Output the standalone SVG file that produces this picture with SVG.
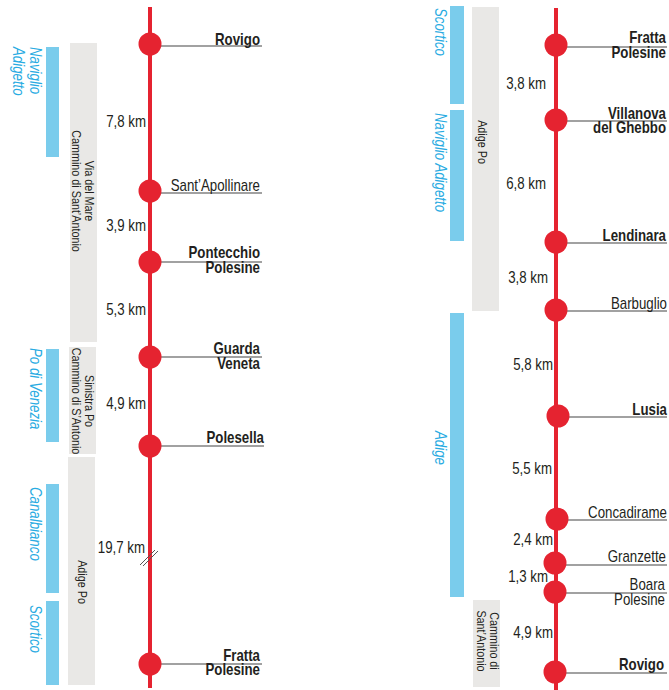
<svg xmlns="http://www.w3.org/2000/svg" width="669" height="690" viewBox="0 0 669 690">
<style>
text{font-family:"Liberation Sans",Arial,sans-serif;fill:#231f20}
.st{font-size:16px;text-anchor:end}
.b{font-weight:bold}
.km{font-size:16px;text-anchor:end}
.riv{font-size:16px;font-style:italic;fill:#29abe2}
.path{font-size:13px;text-anchor:middle}
.rl{stroke:#e52330;stroke-width:4}
.dot{fill:#e52330}
.lead{stroke:#444;stroke-width:1.2}
.blue{fill:#7accec}
.grey{fill:#e9e8e6}
</style>
<g id="bars">
<rect class="blue" x="46" y="47" width="13" height="110"/>
<rect class="grey" x="70" y="43" width="27" height="299"/>
<rect class="blue" x="46" y="349" width="13" height="93"/>
<rect class="grey" x="69" y="347" width="27" height="107"/>
<rect class="grey" x="68" y="457" width="27" height="228"/>
<rect class="blue" x="46" y="484" width="13" height="109"/>
<rect class="blue" x="46" y="601" width="13" height="84"/>
<rect class="blue" x="450" y="6" width="14" height="98"/>
<rect class="blue" x="450" y="110" width="14" height="131"/>
<rect class="grey" x="472" y="7" width="27" height="304"/>
<rect class="blue" x="450" y="313" width="14" height="284"/>
<rect class="grey" x="473" y="600" width="27" height="87"/>
</g>
<g id="bar-labels">
<text class="riv" transform="translate(30,47) rotate(90) scale(.83,1)">Naviglio<tspan x="0" dy="17">Adigetto</tspan></text>
<text class="path" transform="translate(85,191) rotate(90) scale(.83,1)">Via del Mare<tspan x="0" dy="13">Cammino di Sant’Antonio</tspan></text>
<text class="riv" transform="translate(30,348) rotate(90) scale(.83,1)">Po di Venezia</text>
<text class="path" transform="translate(85,401) rotate(90) scale(.83,1)">Sinistra Po<tspan x="0" dy="13">Cammino di S’Antonio</tspan></text>
<text class="path" transform="translate(78,582) rotate(90) scale(.83,1)">Adige Po</text>
<text class="riv" transform="translate(30,487) rotate(90) scale(.83,1)">Canalbianco</text>
<text class="riv" transform="translate(30,605) rotate(90) scale(.83,1)">Scortico</text>
<text class="riv" transform="translate(435,8) rotate(90) scale(.83,1)">Scortico</text>
<text class="riv" transform="translate(435,113) rotate(90) scale(.83,1)">Naviglio Adigetto</text>
<text class="path" transform="translate(478,142) rotate(90) scale(.83,1)">Adige Po</text>
<text class="riv" transform="translate(435,431) rotate(90) scale(.83,1)">Adige</text>
<text class="path" transform="translate(490,641) rotate(90) scale(.83,1)">Cammino di<tspan x="0" dy="13">Sant’Antonio</tspan></text>
</g>
<g id="connectors">
<line class="rl" x1="150" y1="7" x2="150" y2="688"/>
<line class="rl" x1="556" y1="8" x2="556" y2="690"/>
<line class="lead" x1="150" y1="46" x2="262" y2="46"/>
<line class="lead" x1="150" y1="193" x2="262" y2="193"/>
<line class="lead" x1="150" y1="262" x2="262" y2="262"/>
<line class="lead" x1="150" y1="357" x2="262" y2="357"/>
<line class="lead" x1="150" y1="446" x2="264" y2="446"/>
<line class="lead" x1="150" y1="664" x2="262" y2="664"/>
<line class="lead" x1="556" y1="47" x2="667" y2="47"/>
<line class="lead" x1="556" y1="121" x2="667" y2="121"/>
<line class="lead" x1="556" y1="243" x2="667" y2="243"/>
<line class="lead" x1="556" y1="311" x2="667" y2="311"/>
<line class="lead" x1="556" y1="417" x2="667" y2="417"/>
<line class="lead" x1="556" y1="520" x2="667" y2="520"/>
<line class="lead" x1="556" y1="565" x2="667" y2="565"/>
<line class="lead" x1="556" y1="593" x2="667" y2="593"/>
<line class="lead" x1="556" y1="673" x2="667" y2="673"/>
<line stroke="#555" stroke-width="1" x1="140" y1="565" x2="155" y2="550"/>
<line stroke="#555" stroke-width="1" x1="143" y1="566" x2="158" y2="551"/>
</g>
<g id="km-labels">
<text class="km" transform="translate(146,127) scale(.83,1)">7,8 km</text>
<text class="km" transform="translate(146,231) scale(.83,1)">3,9 km</text>
<text class="km" transform="translate(146,315) scale(.83,1)">5,3 km</text>
<text class="km" transform="translate(146,409) scale(.83,1)">4,9 km</text>
<text class="km" transform="translate(145,553) scale(.83,1)">19,7 km</text>
<text class="km" transform="translate(546,89) scale(.83,1)">3,8 km</text>
<text class="km" transform="translate(546,189) scale(.83,1)">6,8 km</text>
<text class="km" transform="translate(548,283) scale(.83,1)">3,8 km</text>
<text class="km" transform="translate(553,370) scale(.83,1)">5,8 km</text>
<text class="km" transform="translate(552,474) scale(.83,1)">5,5 km</text>
<text class="km" transform="translate(553,545) scale(.83,1)">2,4 km</text>
<text class="km" transform="translate(548,582) scale(.83,1)">1,3 km</text>
<text class="km" transform="translate(553,638) scale(.83,1)">4,9 km</text>
</g>
<g id="rovigo-l"><circle class="dot" cx="150" cy="44" r="11.5"/><text class="st b" transform="translate(260,45) scale(.83,1)">Rovigo</text></g>
<g id="santapollinare"><circle class="dot" cx="150" cy="191" r="11.5"/><text class="st" transform="translate(260,191) scale(.83,1)">Sant’Apollinare</text></g>
<g id="pontecchio"><circle class="dot" cx="150" cy="262" r="11.5"/><text class="st b" transform="translate(260,258) scale(.83,1)">Pontecchio<tspan x="0" dy="15">Polesine</tspan></text></g>
<g id="guarda"><circle class="dot" cx="150" cy="357" r="11.5"/><text class="st b" transform="translate(260,354) scale(.83,1)">Guarda<tspan x="0" dy="15">Veneta</tspan></text></g>
<g id="polesella"><circle class="dot" cx="150" cy="446" r="11.5"/><text class="st b" transform="translate(264,443) scale(.83,1)">Polesella</text></g>
<g id="fratta-l"><circle class="dot" cx="150" cy="664" r="11.5"/><text class="st b" transform="translate(260,661) scale(.83,1)">Fratta<tspan x="0" dy="14">Polesine</tspan></text></g>
<g id="fratta-r"><circle class="dot" cx="556" cy="45" r="11.5"/><text class="st b" transform="translate(666,43) scale(.83,1)">Fratta<tspan x="0" dy="15">Polesine</tspan></text></g>
<g id="villanova"><circle class="dot" cx="556" cy="120" r="11.5"/><text class="st b" transform="translate(666,119) scale(.83,1)">Villanova<tspan x="0" dy="14">del Ghebbo</tspan></text></g>
<g id="lendinara"><circle class="dot" cx="556" cy="242" r="11.5"/><text class="st b" transform="translate(666,241) scale(.83,1)">Lendinara</text></g>
<g id="barbuglio"><circle class="dot" cx="556" cy="310" r="11.5"/><text class="st" transform="translate(667,309) scale(.83,1)">Barbuglio</text></g>
<g id="lusia"><circle class="dot" cx="558" cy="416" r="11.5"/><text class="st b" transform="translate(667,415) scale(.83,1)">Lusia</text></g>
<g id="concadirame"><circle class="dot" cx="557" cy="519" r="11.5"/><text class="st" transform="translate(667,518) scale(.83,1)">Concadirame</text></g>
<g id="granzette"><circle class="dot" cx="555" cy="563" r="11.5"/><text class="st" transform="translate(666,562) scale(.83,1)">Granzette</text></g>
<g id="boara"><circle class="dot" cx="555" cy="592" r="11.5"/><text class="st" transform="translate(665,590) scale(.83,1)">Boara<tspan x="0" dy="15">Polesine</tspan></text></g>
<g id="rovigo-r"><circle class="dot" cx="555" cy="672" r="11.5"/><text class="st b" transform="translate(664,670) scale(.83,1)">Rovigo</text></g>
</svg>
